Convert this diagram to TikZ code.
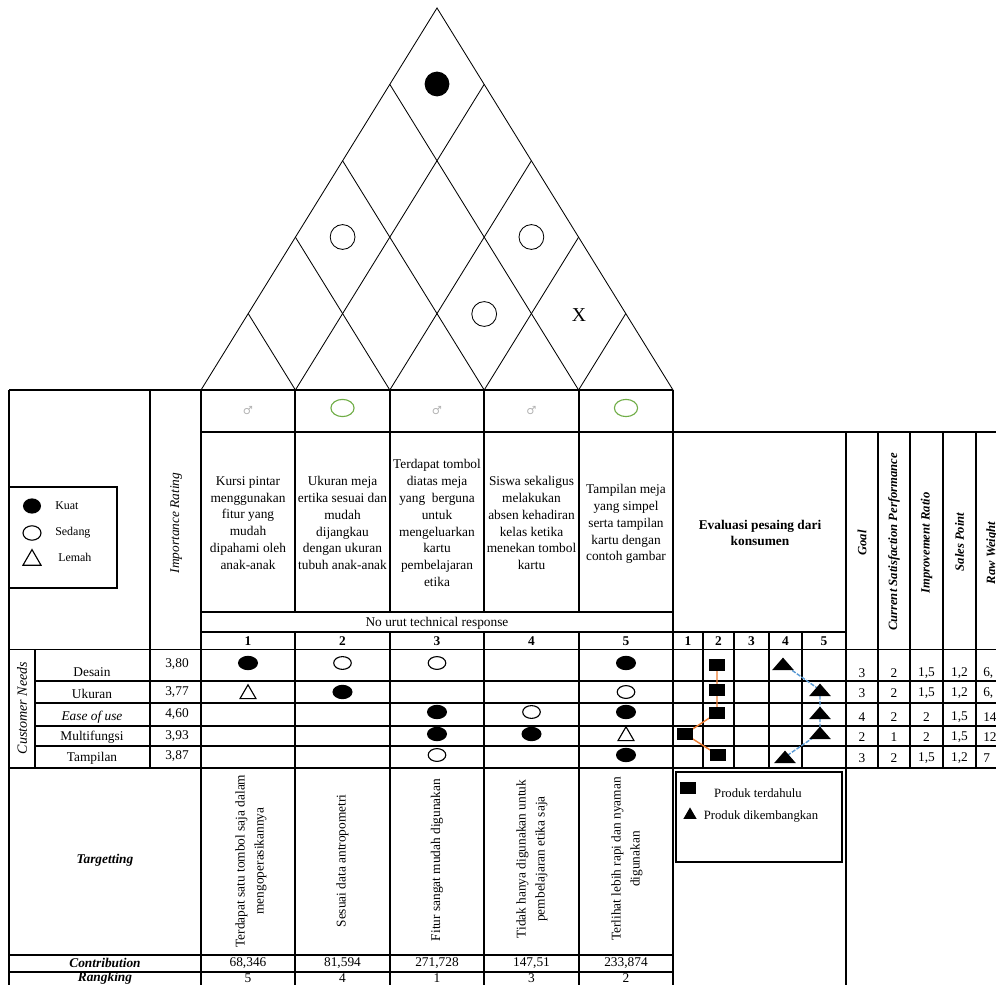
\documentclass[tikz,border=0pt]{standalone}
\usepackage{fontspec}
\setmainfont{Liberation Serif}
\newfontfamily\signfont{DejaVu Sans}
\usetikzlibrary{shapes,positioning}
\definecolor{ringgreen}{RGB}{112,173,71}
\definecolor{trendorange}{RGB}{237,125,49}
\definecolor{trendblue}{RGB}{91,155,213}
\tikzset{
    table line/.style={line width=1pt, black},
    roof line/.style={line width=0.6pt, black},
    cell text/.style={font=\fontsize{9.5}{12}\selectfont, inner sep=0pt, align=center},
    bold cell/.style={cell text, font=\fontsize{9.5}{12}\selectfont\bfseries},
    label text/.style={font=\fontsize{9.5}{12}\selectfont\bfseries\itshape, inner sep=0pt},
    head text/.style={font=\fontsize{9}{11}\selectfont\bfseries\itshape, inner sep=0pt, rotate=90},
    target text/.style={font=\fontsize{9.5}{13.5}\selectfont, inner sep=0pt, align=center, rotate=90},
    key text/.style={font=\fontsize{8.5}{10}\selectfont, inner sep=0pt, anchor=west},
    rel strong/.style={ellipse, fill=black, minimum width=5mm, minimum height=3.6mm, inner sep=0pt},
    rel medium/.style={ellipse, draw=black, line width=0.8pt, minimum width=4.4mm, minimum height=3.2mm, inner sep=0pt},
    rel weak/.style={regular polygon, regular polygon sides=3, draw=black, line width=0.8pt, minimum size=4.6mm, inner sep=0pt},
    roof strong/.style={circle, fill=black, minimum size=6.2mm, inner sep=0pt},
    roof medium/.style={circle, draw=black, line width=0.6pt, minimum size=6.2mm, inner sep=0pt},
    target sign/.style={font=\signfont\fontsize{8}{8}\selectfont, text=gray!60, inner sep=0pt},
    target ring/.style={ellipse, draw=ringgreen, line width=0.8pt, minimum width=5.8mm, minimum height=4.3mm, inner sep=0pt},
    old product/.style={rectangle, fill=black, minimum width=3.8mm, minimum height=3.2mm, inner sep=0pt},
    old trend/.style={trendorange, line width=1pt},
    new trend/.style={trendblue, line width=1pt, dash pattern=on 3pt off 1pt},
    new product/.pic={\fill (-2.7mm,-1.5mm) -- (2.7mm,-1.5mm) -- (0,1.6mm) -- cycle;}
}

\begin{document}
\begin{tikzpicture}[x=0.025cm, y=-0.025cm]
  \clip (0,0) rectangle (996,985);

  % roof
  \draw[roof line] (201,390) -- (437,8) -- (673,390);
  \foreach \i in {1,...,4}{
    \pgfmathsetmacro{\xb}{201+94.4*\i}
    \pgfmathsetmacro{\hl}{1.619*47.2*\i}
    \pgfmathsetmacro{\hr}{1.619*47.2*(5-\i)}
    \draw[roof line] (\xb,390) -- ++(-47.2*\i,-\hl);
    \draw[roof line] (\xb,390) -- ++(236-47.2*\i,-\hr);
  }
  \node[roof strong] (roof15) at (437,84) {};
  \node[roof medium] (roof13) at (342.6,237) {};
  \node[roof medium] (roof35) at (531.4,237) {};
  \node[roof medium] (roof34) at (484.2,314) {};
  \node[font=\fontsize{14}{14}\selectfont, inner sep=0pt] (roof45) at (579,315) {X};

  % table grid
  \draw[table line] (9,390) -- (673,390);
  \draw[table line] (201,432) -- (996,432);
  \draw[table line] (201,612) -- (673,612);
  \draw[table line] (201,632) -- (846,632);
  \draw[table line] (9,649.5) -- (996,649.5);
  \foreach \y in {681,703,726,746}
    \draw[table line] (35,\y) -- (996,\y);
  \draw[table line] (9,768) -- (996,768);
  \draw[table line] (9,955) -- (673,955);
  \draw[table line] (9,972) -- (673,972);
  \draw[table line] (9,390) -- (9,990);
  \draw[table line] (35,649.5) -- (35,768);
  \draw[table line] (150,390) -- (150,768);
  \draw[table line] (201,390) -- (201,990);
  \foreach \x in {295,390,484,579}{
    \draw[table line] (\x,390) -- (\x,612);
    \draw[table line] (\x,632) -- (\x,990);
  }
  \draw[table line] (673,390) -- (673,990);
  \foreach \x in {703,734,769,802}
    \draw[table line] (\x,632) -- (\x,768);
  \draw[table line] (846,432) -- (846,990);
  \foreach \x in {878,910,943,976}
    \draw[table line] (\x,432) -- (\x,768);

  % legend of relations
  \draw[table line] (9,487) rectangle (117,588);
  \node[rel strong, minimum width=4.5mm, minimum height=3.8mm] (keystrong) at (32,506) {};
  \node[rel medium, minimum width=4.5mm, minimum height=3.6mm] (keymedium) at (32,533) {};
  \node[rel weak, minimum size=5.2mm] (keyweak) at (32,560) {};
  \node[key text] (keystronglbl) at (55,506) {Kuat};
  \node[key text] (keymediumlbl) at (55,533) {Sedang};
  \node[key text] (keyweaklbl) at (58,557) {Lemah};
  \node[cell text, rotate=90, font=\fontsize{9.5}{12}\selectfont\itshape] (imprating) at (176,523) {Importance Rating};

  % direction of improvement
  \node[target sign] (sign1) at (248,411) {♂};
  \node[target ring] (ring2) at (342.5,408) {};
  \node[target sign] (sign3) at (437,411) {♂};
  \node[target sign] (sign4) at (531.5,411) {♂};
  \node[target ring] (ring5) at (626,408) {};

  % technical responses
  \node[cell text] (resp1) at (248,523) {Kursi pintar\\menggunakan\\fitur yang\\mudah\\dipahami oleh\\anak-anak};
  \node[cell text] (resp2) at (342.5,523) {Ukuran meja\\ertika sesuai dan\\mudah\\dijangkau\\dengan ukuran\\tubuh anak-anak};
  \node[cell text] (resp3) at (437,523) {Terdapat tombol\\diatas meja\\yang\ \ berguna\\untuk\\mengeluarkan\\kartu\\pembelajaran\\etika};
  \node[cell text] (resp4) at (531.5,523) {Siswa sekaligus\\melakukan\\absen kehadiran\\kelas ketika\\menekan tombol\\kartu};
  \node[cell text] (resp5) at (626,524) {Tampilan meja\\yang simpel\\serta tampilan\\kartu dengan\\contoh gambar};
  \node[cell text] (nourut) at (437,623) {No urut technical response};
  \foreach \x [count=\n] in {248,342.5,437,531.5,626}
    \node[bold cell] (respno\n) at (\x,641) {\n};

  % competitive evaluation header
  \node[bold cell] (evalhead) at (760,533) {Evaluasi pesaing dari\\konsumen};
  \foreach \x [count=\n] in {688,718.5,751.5,785.5,824}
    \node[bold cell] (evalno\n) at (\x,641) {\n};
  \node[head text] (goalhead) at (862,543) {Goal};
  \node[head text] (csphead) at (894,542) {Current Satisfaction Performance};
  \node[head text] (irhead) at (926.5,543) {Improvement Ratio};
  \node[head text] (sphead) at (959.5,542) {Sales Point};
  \node[head text] (rwhead) at (992,553) {Raw Weight};

  % customer needs
  \node[cell text, rotate=90, font=\fontsize{10}{12}\selectfont\itshape] (needshead) at (22,708) {Customer Needs};
  \node[cell text] (need1) at (92,672) {Desain};
  \node[cell text] (need2) at (92,694) {Ukuran};
  \node[cell text] (need3) at (92,717) {\textit{Ease of use}};
  \node[cell text] (need4) at (92,737) {Multifungsi};
  \node[cell text] (need5) at (92,758) {Tampilan};
  \node[cell text] (imp1) at (177,664) {3,80};
  \node[cell text] (imp2) at (177,692) {3,77};
  \node[cell text] (imp3) at (177,714) {4,60};
  \node[cell text] (imp4) at (177,736) {3,93};
  \node[cell text] (imp5) at (177,756) {3,87};

  % relationship matrix
  \node[rel strong] (m11) at (248,663) {};
  \node[rel medium] (m21) at (342.5,663) {};
  \node[rel medium] (m31) at (437,663) {};
  \node[rel strong] (m51) at (626,663) {};
  \node[rel weak] (m12) at (248,694) {};
  \node[rel strong] (m22) at (342.5,692) {};
  \node[rel medium] (m52) at (626,692) {};
  \node[rel strong] (m33) at (437,712) {};
  \node[rel medium] (m43) at (531.5,712) {};
  \node[rel strong] (m53) at (626,712) {};
  \node[rel strong] (m34) at (437,734) {};
  \node[rel strong] (m44) at (531.5,734) {};
  \node[rel weak] (m54) at (626,736) {};
  \node[rel medium] (m35) at (437,755) {};
  \node[rel strong] (m55) at (626,755) {};

  % competitive evaluation
  \coordinate (old1) at (717,665);
  \coordinate (old2) at (717,690);
  \coordinate (old3) at (717,713);
  \coordinate (old4) at (685,734);
  \coordinate (old5) at (718,755);
  \coordinate (new1) at (783,664);
  \coordinate (new2) at (820,690);
  \coordinate (new3) at (820,713);
  \coordinate (new4) at (820,733);
  \coordinate (new5) at (785,757);
  \draw[old trend] (old1) -- (old2) -- (old3) -- (old4) -- (old5);
  \draw[new trend] (new1) -- (new2) -- (new3) -- (new4) -- (new5);
  \foreach \n in {1,...,5}{
    \node[old product] (oldbox\n) at (old\n) {};
    \pic at (new\n) {new product};
  }

  % planning values
  \foreach \g/\c/\ir/\sp/\rw/\y [count=\n] in
      {3/2/{1,5}/{1,2}/{6,}/673, 3/2/{1,5}/{1,2}/{6,}/693,
       4/2/2/{1,5}/14/717, 2/1/2/{1,5}/12/737, 3/2/{1,5}/{1,2}/7/758}{
    \node[cell text] (goal\n) at (862,\y) {\g};
    \node[cell text] (csp\n) at (894,\y) {\c};
    \node[cell text] (ir\n) at (926.5,\y) {\ir};
    \node[cell text] (sp\n) at (959.5,\y) {\sp};
    \node[cell text, anchor=west] (rw\n) at (983,\y) {\rw};
  }

  % legend of products
  \draw[table line] (676,772) rectangle (842,862);
  \node[old product] (keyold) at (688,788) {};
  \node[regular polygon, regular polygon sides=3, fill=black, minimum size=3.8mm, inner sep=0pt] (keynew) at (690,815) {};
  \node[cell text, font=\fontsize{9}{11}\selectfont] (keyoldlbl) at (758,793) {Produk terdahulu};
  \node[cell text, font=\fontsize{9}{11}\selectfont] (keynewlbl) at (761,816) {Produk dikembangkan};

  % targets
  \node[label text] (targethead) at (105,860) {Targetting};
  \node[target text] (target1) at (251,861) {Terdapat satu tombol saja dalam\\mengoperasikannya};
  \node[target text] (target2) at (342.5,861) {Sesuai data antropometri};
  \node[target text] (target3) at (437,860) {Fitur sangat mudah digunakan};
  \node[target text] (target4) at (532,859) {Tidak hanya digunakan untuk\\pembelajaran etika saja};
  \node[target text] (target5) at (627,859) {Terlihat lebih rapi dan nyaman\\digunakan};

  % contribution and ranking
  \node[label text] (contribhead) at (105,963) {Contribution};
  \node[label text] (rankhead) at (105,978.5) {Rangking};
  \foreach \x/\v/\r [count=\n] in {248/{68,346}/5, 342.5/{81,594}/4, 437/{271,728}/1, 531.5/{147,51}/3, 626/{233,874}/2}{
    \node[cell text] (contrib\n) at (\x,963) {\v};
    \node[cell text] (rank\n) at (\x,978.5) {\r};
  }
\end{tikzpicture}
\end{document}
